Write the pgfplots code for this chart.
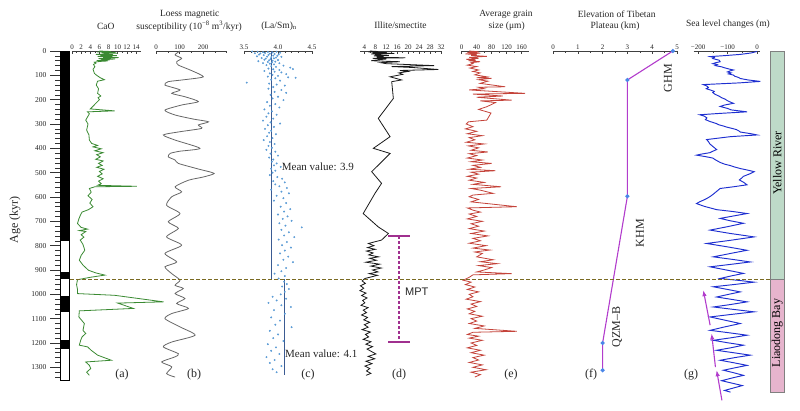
\documentclass[border=0pt]{standalone}
\usepackage{fontspec}
\setmainfont{Liberation Serif}
\newfontfamily\sansf{Liberation Sans}
\usepackage{pgfplots}
\pgfplotsset{compat=1.18}
\usetikzlibrary{arrows.meta}
\definecolor{cao}{HTML}{3A8A32}
\definecolor{msc}{HTML}{666666}
\definecolor{scat}{HTML}{5B9BD5}
\definecolor{meanc}{HTML}{3B5B92}
\definecolor{grc}{HTML}{C4433A}
\definecolor{slc}{HTML}{1E2FD0}
\definecolor{elevc}{HTML}{B23CCC}
\definecolor{mkc}{HTML}{4A86E8}
\definecolor{mptc}{HTML}{A0308F}
\definecolor{dashc}{HTML}{7A6A22}
\definecolor{ygreen}{HTML}{BEDAC8}
\definecolor{lpink}{HTML}{E6B4CD}
\pgfplotsset{panel/.style={
  scale only axis, height=345.5pt, ymin=0, ymax=1420, y dir=reverse,
  axis x line*=top, axis y line=none, clip=false, anchor=north west,
  x axis line style={-, black!75, line width=0.6pt},
  tick align=inside, major tick length=3pt, minor tick length=1.8pt,
  every tick/.style={black!75, line width=0.5pt},
  xticklabel style={font=\fontsize{7}{8}\selectfont, text=black!85, inner sep=1.5pt},
  /pgf/number format/assume math mode=true,
  /pgf/number format/1000 sep={},
  scaled x ticks=false, ytick=\empty,
}}
\begin{document}
\begin{tikzpicture}[x=1pt,y=1pt]
\path[use as bounding box] (0,0) rectangle (800,-410);

% polarity column and age axis
\begin{axis}[scale only axis, height=345.5pt, ymin=0, ymax=1420, y dir=reverse,
  width=9pt, xmin=0, xmax=1, at={(60pt,-51pt)}, anchor=north west,
  axis x line=none, axis y line*=left, y axis line style={draw=none},
  tick align=outside, ytick={0,100,...,1300}, minor ytick={0,20,...,1340},
  major tick length=10pt, minor tick length=5pt,
  every tick/.style={black!80, line width=0.5pt},
  yticklabel style={font=\fontsize{7.5}{8}\selectfont, text=black!85},
  /pgf/number format/assume math mode=true, /pgf/number format/1000 sep={}, clip=false]
\addplot[fill=white, draw=none] coordinates {(0,0)(1,0)(1,1355)(0,1355)} --cycle;
\addplot[fill=black, draw=none] coordinates {(0,0)(1,0)(1,781)(0,781)} --cycle;
\addplot[fill=black, draw=none] coordinates {(0,910)(1,910)(1,935)(0,935)} --cycle;
\addplot[fill=black, draw=none] coordinates {(0,1005)(1,1005)(1,1073)(0,1073)} --cycle;
\addplot[fill=black, draw=none] coordinates {(0,1187)(1,1187)(1,1225)(0,1225)} --cycle;
\addplot[draw=black, line width=0.7pt, fill=none] coordinates {(0,0)(1,0)(1,1355)(0,1355)} --cycle;
\end{axis}

% (a) CaO
\begin{axis}[panel, at={(72pt,-51pt)}, width=68.6pt, xmin=0, xmax=15, xtick={0,2,...,14}, minor x tick num=1]
\addplot[cao, line width=0.8pt] coordinates {
(6,0)(8.5,2)(5.5,4)(9.5,5)(6.5,7)(10,9)(7,10)(8,12)(5.2,14)(9,15)(6.2,17)(9.8,19)(7.5,20)(5.6,22)(8.8,24)(6.8,26)(10.2,27)(7.2,29)(5.8,31)(9.4,33)(6.4,35)(8.2,37)(5.4,39)(7.8,41)(6.0,43)(4.9,46)(5.2,50)
(4.7,55)(5.0,65)(4.6,75)(4.9,92)(5.4,100)(6.2,110)(7.1,118)(5.6,124)(5.3,140)(5.8,155)(5.6,174)(6.3,185)(5.7,192)(6.0,200)(5.2,215)(4.5,229)(4.0,238)(9.3,246)(3.4,250)(3.8,258)(3.0,284)(3.5,300)(3.2,325)(3.7,345)(3.8,366)(4.3,380)(5.6,388)(4.6,394)(6.4,402)(5.0,410)(6.8,418)(5.4,426)(6.2,435)(5.2,445)(6.8,452)(5.8,462)(6.6,470)(5.4,478)(7.0,486)(6.0,495)(6.6,505)(5.6,515)(6.8,525)(5.8,535)(6.4,545)(5.6,552)(14.2,556)(5.0,558)(3.8,565)(4.2,580)(3.5,595)(4.4,610)(3.9,625)(4.6,640)(3.6,652)(2.2,662)(1.9,672)(1.5,690)(1.2,709)(2.0,725)(3.4,732)(1.6,738)(3.0,742)(2.0,755)(2.6,765)(1.8,777)(2.4,795)(2.8,819)(2.0,840)(1.6,860)(2.4,880)(3.6,901)(5.2,912)(7.2,921)(4.0,930)(1.2,940)(1.0,960)(1.2,980)(1.2,997)(9.3,1004)(20.0,1031)(10.0,1036)(13.4,1058)(1.6,1068)(1.5,1093)(2.7,1120)(2.4,1148)(3.0,1161)(2.2,1175)(1.9,1189)(1.6,1209)(3.4,1216)(4.2,1230)(5.6,1250)(8.6,1271)(3.0,1278)(3.8,1292)(4.1,1305)(3.2,1320)(3.8,1333)};
\end{axis}

% (b) magnetic susceptibility
\begin{axis}[panel, at={(156pt,-51pt)}, width=70.6pt, xmin=0, xmax=300, xtick={0,100,200}, minor xtick={50,150,250,300}]
\addplot[msc, line width=0.8pt, smooth, tension=0.4] coordinates {
(102,0)(81,16)(109,30)(88,44)(95,58)(150,80)(201,106)(120,118)(52,126)(38,140)(102,160)(67,174)(123,188)(180,208)(109,222)(38,243)(81,263)(160,280)(223,291)(180,304)(194,318)(100,332)(31,345)(81,366)(187,400)(100,412)(60,421)(52,435)(81,448)(95,462)(180,485)(247,503)(200,518)(138,531)(81,558)(109,579)(67,599)(45,634)(102,668)(52,702)(95,729)(45,764)(109,798)(38,832)(88,867)(38,887)(67,915)(102,942)(81,963)(116,976)(81,997)(123,1017)(88,1038)(138,1058)(67,1079)(38,1100)(102,1134)(166,1168)(67,1196)(31,1216)(95,1244)(81,1257)(24,1278)(67,1298)(45,1326)(81,1340)};
\end{axis}

% (c) (La/Sm)n
\begin{axis}[panel, at={(244pt,-51pt)}, width=68pt, xmin=3.5, xmax=4.5, xtick={3.5,4,4.5}, xticklabels={3.5,4.0,4.5}, minor x tick num=4]
\addplot[only marks, mark=*, mark size=0.75pt, scat] coordinates {
(3.62,2)(3.70,3)(3.78,5)(3.85,4)(3.92,6)(3.98,3)(4.03,7)(3.66,9)(3.74,10)(3.81,8)(3.88,11)(3.95,12)(4.01,14)(3.72,15)(3.79,17)(3.86,16)(3.93,19)(3.99,20)(3.69,22)(3.84,23)(3.90,25)(3.97,27)(4.05,24)(3.76,29)(3.82,31)(3.89,33)(3.94,30)(3.80,36)(3.87,38)(3.92,40)(4.00,37)(3.71,42)(3.85,45)(3.91,47)(3.96,44)(3.78,50)(3.88,52)(3.94,55)(4.02,50)(3.83,58)
(3.90,62)(3.97,65)(4.08,60)(4.18,68)(3.86,72)(3.93,75)(4.02,78)(4.22,74)(3.80,82)(3.95,85)(4.05,88)(3.88,92)(4.12,95)(3.92,98)(4.00,102)(3.85,105)(4.15,108)(3.96,112)(4.26,110)(3.90,118)(4.03,122)(3.54,130)(3.87,134)(3.98,138)(4.10,142)(3.93,148)
(3.86,155)(4.05,160)(3.95,168)(4.12,172)(3.89,180)(4.00,188)(3.92,195)(4.08,202)(3.84,210)(3.96,218)(3.88,225)(4.02,232)(3.80,240)(3.91,248)(3.86,256)(3.98,262)(3.83,270)(3.93,278)(3.78,286)(3.89,293)(4.03,298)(3.85,305)(3.94,312)(3.81,320)(3.90,328)(3.87,336)(3.97,342)(3.84,350)(3.92,358)(3.79,366)(3.88,374)(3.95,382)(3.86,390)(3.91,398)(3.83,406)(3.96,414)(3.89,422)(4.00,430)(3.87,438)(3.93,446)(3.91,455)(3.98,462)(3.94,470)(4.04,476)(3.90,484)(3.96,492)(3.92,500)
(3.88,510)(3.99,518)(4.06,525)(3.93,535)(4.10,540)(3.96,548)(4.02,556)(4.13,563)(3.90,570)(4.05,578)(4.16,585)(3.98,595)(4.08,605)(3.94,615)(4.12,625)(4.04,640)(4.18,650)(4.09,660)(4.00,672)(4.14,680)(4.07,690)(4.20,698)(4.02,708)(4.11,718)(4.35,725)(4.05,735)(4.16,745)(4.09,758)(4.24,765)(4.01,775)(4.13,785)(4.06,798)(4.19,808)(4.10,820)(4.03,832)(4.15,845)(4.08,858)(4.22,868)(4.00,880)(4.12,892)(4.05,905)(3.95,915)(4.10,925)(4.01,935)
(4.09,948)(4.13,958)(4.06,968)(4.16,978)(4.10,990)(4.04,1000)(3.92,1010)(4.12,1018)(3.98,1025)(3.86,1035)(4.05,1045)(4.19,1052)(3.94,1065)(4.10,1080)(3.90,1095)(4.03,1108)(3.96,1125)(4.20,1135)(3.88,1150)(4.00,1165)(3.93,1180)(4.08,1192)(3.85,1205)(3.97,1218)(3.90,1232)(4.02,1245)(3.83,1258)(3.95,1270)(3.88,1282)(4.05,1295)(3.92,1308)(3.98,1320)};
\addplot[meanc, line width=1pt] coordinates {(3.9,0)(3.9,942)};
\addplot[meanc, line width=1pt] coordinates {(4.1,938)(4.1,1330)};
\end{axis}

% (d) Illite/smectite
\begin{axis}[panel, at={(360.2pt,-51pt)}, width=82.2pt, xmin=2.5, xmax=32.5, xtick={4,8,...,32}, minor x tick num=1]
\addplot[black!90, line width=0.8pt] coordinates {
(6,0)(9,2)(5.5,4)(12,6)(7,8)(15,10)(6.5,12)(10,14)(8,16)(13,18)(7.5,20)(11,22)(8.5,25)(19,28)(7,30)(12,33)(9,36)(6.5,40)(17,44)(10,48)(12,52)(29.5,60)(14,64)(22,68)(31,76)(17,80)(20,84)(16.6,90)(18,96)(13.4,106)(17.6,119)(14,126)(14.6,195)(9.1,277)(13.4,352)(7.3,400)(13.4,421)(6.7,496)(10.3,544)(7.9,585)(3.6,668)(9.1,723)(12.8,750)(10.3,777)(5.5,791)(7.5,800)(5.2,808)(8.0,815)(4.8,822)(7.2,830)(5.6,838)(9.2,846)(6.0,852)(8.4,860)(4.6,868)(9.6,876)(6.4,884)(10.2,892)(7.0,900)(9.0,908)(5.8,915)(8.8,922)(4.2,935)(3.2,945)(4.4,955)(2.6,965)(3.8,975)(2.4,985)(4.6,995)(3.0,1005)(5.0,1015)(3.4,1025)(4.2,1035)(2.8,1045)(5.4,1055)(3.6,1065)(4.8,1075)(3.0,1085)(5.2,1095)(3.8,1105)(6.0,1115)(4.0,1125)(5.4,1135)(3.2,1145)(6.2,1155)(4.4,1165)(5.6,1175)(3.6,1185)(6.4,1195)(4.6,1205)(7.0,1215)(5.0,1225)(6.6,1235)(8.2,1245)(5.4,1255)(7.8,1265)(4.6,1275)(6.8,1285)(4.2,1295)(6.0,1305)(4.8,1315)(6.4,1325)(4.6,1333)};
\addplot[mptc, line width=1.4pt, dash pattern=on 3pt off 2pt] coordinates {(16.7,761)(16.7,1196)};
\addplot[mptc, line width=1.4pt] coordinates {(12.8,761)(20.7,761)};
\addplot[mptc, line width=1.4pt] coordinates {(12.8,1196)(20.7,1196)};
\end{axis}

% (e) grain size
\begin{axis}[panel, at={(461.7pt,-51pt)}, width=67.5pt, xmin=0, xmax=180, xtick={0,40,...,160}, minor x tick num=1]
\addplot[grc, line width=0.8pt] coordinates {
(20,0)(45,3)(15,6)(50,9)(10,12)(40,15)(25,18)(67,22)(20,26)(45,30)(12,34)(38,37)(18,40)(49,44)(25,48)(30,52)
(15,58)(40,64)(22,70)(45,78)(30,84)(49,90)(35,98)(67,106)(40,110)(80,112)(45,118)(70,124)(49,133)(116,147)(45,149)(60,155)(20,160)(169,174)(30,177)(110,185)(40,190)(133,202)(50,205)(90,212)(67,229)(45,240)(78,255)(67,284)(18,291)(12,300)(30,311)(10,320)(40,330)(15,340)(55,348)(20,356)(35,365)(12,375)(60,382)(18,390)(45,398)(25,408)(70,415)(20,422)(40,430)(15,440)(55,448)(25,455)(80,462)(30,470)(50,478)(20,486)(90,492)(25,498)(45,506)(15,515)(40,522)(20,531)(60,540)(30,548)(105,558)(25,565)(50,572)(84,585)(30,592)(20,599)(45,610)(25,620)(147,640)(15,645)(30,654)(50,662)(20,670)(40,680)(15,690)(55,700)(25,710)(45,720)(20,730)(60,740)(25,750)(70,760)(30,770)(50,780)(20,790)(65,800)(30,810)(75,818)(35,826)(55,832)(40,846)(84,858)(50,866)(95,874)(45,882)(80,890)(60,900)(40,908)(133,915)(30,920)(20,930)(4,942)(25,950)(10,960)(35,970)(15,980)(45,990)(20,1000)(30,1010)(12,1020)(50,1030)(25,1040)(40,1050)(15,1060)(35,1070)(20,1080)(55,1090)(25,1100)(40,1110)(20,1120)(60,1130)(35,1140)(147,1152)(30,1156)(15,1165)(45,1172)(20,1180)(55,1189)(25,1200)(40,1210)(15,1220)(50,1230)(25,1240)(60,1250)(30,1260)(45,1270)(20,1280)(55,1290)(30,1300)(65,1310)(25,1320)(50,1330)(35,1340)};
\end{axis}

% (f) elevation
\begin{axis}[panel, at={(553pt,-51pt)}, width=124pt, xmin=0, xmax=5, xtick={0,1,...,5}, minor x tick num=1]
\addplot[elevc, line width=1.1pt, mark=*, mark size=1.5pt, mark options={draw=mkc, fill=mkc}] coordinates {(4.83,0)(3.0,119)(3.0,597)(2.0,1200)(2.0,1312)};
\end{axis}

% (g) sea level
\begin{axis}[panel, at={(693.6pt,-51pt)}, width=66.4pt, xmin=-215, xmax=10, xtick={-200,-100,0}, xticklabels={−200,−100,0}, minor x tick num=1]
\addplot[slc, line width=0.95pt] coordinates {
(0,2)(-20,8)(-57,14)(-110,19)(-159,23)(-145,27)(-150,31)(-128,38)(-125,44)(-140,48)(-150,52)(-135,56)(-142,60)(-120,65)(-110,69)(-95,74)(-80,78)(-92,82)(-100,86)(-88,90)(-97,94)(-80,99)(-75,104)(-62,109)(-57,113)(-30,119)(11,125)(-60,131)(-182,138)(-170,144)(-165,150)(-172,155)(-159,160)(-145,166)(-150,171)(-142,178)(-128,186)(-120,192)(-108,198)(-102,203)(-92,209)(-80,215)(-110,222)(-125,228)(-100,236)(-88,242)(-34,250)(-120,256)(-194,262)(-178,268)(-170,275)(-175,282)(-159,290)(-138,298)(-130,303)(-112,309)(-102,313)(-85,318)(-70,323)(-62,328)(-57,333)(-20,340)(0,345)(-90,352)(-171,364)(-165,372)(-160,382)(-150,392)(-137,405)(-150,412)(-160,418)(-190,424)(-205,428)(-175,434)(-150,440)(-140,448)(-125,458)(-110,465)(-90,471)(-75,477)(-57,483)(-30,490)(-10,496)(-25,505)(-46,515)(-52,522)(-60,530)(-45,540)(-34,550)(-80,558)(-125,565)(-132,572)(-140,580)(-150,590)(-159,598)(-170,606)(-180,612)(-195,620)(-205,627)(-180,638)(-137,652)(-80,660)(-34,668)(-80,678)(-125,688)(-90,698)(-46,708)(-100,722)(-159,736)(-90,750)(-10,764)(-90,778)(-171,791)(-100,805)(-34,819)(-90,832)(-148,846)(-80,857)(-23,867)(-90,877)(-159,887)(-100,901)(-46,914)(-90,925)(-125,935)(-60,943)(-10,950)(-80,960)(-148,969)(-100,980)(-57,990)(-100,1001)(-137,1011)(-85,1021)(-34,1031)(-90,1042)(-148,1052)(-80,1062)(-10,1072)(-90,1083)(-159,1093)(-110,1106)(-57,1120)(-110,1134)(-159,1148)(-95,1158)(-34,1168)(-90,1179)(-148,1189)(-100,1199)(-46,1209)(-90,1220)(-137,1230)(-80,1240)(-23,1250)(-75,1260)(-125,1271)(-80,1281)(-34,1292)(-75,1302)(-114,1312)(-80,1322)(-46,1333)(-85,1344)(-120,1355)(-85,1365)(-50,1375)(-80,1385)(-110,1395)(-90,1402)};
\addplot[elevc, line width=1.1pt, -{Latex[length=6pt,width=4.5pt]}] coordinates {(-159,1127)(-182,983)};
\addplot[elevc, line width=1.1pt, -{Latex[length=6pt,width=4.5pt]}] coordinates {(-141,1299)(-154,1161)};
\addplot[elevc, line width=1.1pt, -{Latex[length=6pt,width=4.5pt]}] coordinates {(-119,1436)(-137,1312)};
\end{axis}

% right bars and dashed line
\begin{axis}[scale only axis, height=345.5pt, ymin=0, ymax=1420, y dir=reverse,
  width=14.3pt, xmin=0, xmax=1, at={(770pt,-51pt)}, anchor=north west,
  hide x axis, hide y axis, clip=false]
\addplot[fill=ygreen, draw=black!50, line width=0.6pt] coordinates {(0,0)(1,0)(1,939)(0,939)} --cycle;
\addplot[fill=lpink, draw=black!50, line width=0.6pt] coordinates {(0,939)(1,939)(1,1401)(0,1401)} --cycle;
\addplot[dashc, line width=1.5pt, dash pattern=on 4pt off 2pt] coordinates {(-48.95,939)(0,939)};
\node[rotate=90, font=\fontsize{12}{12}\selectfont] at (axis cs:0.5,460) {Yellow River};
\node[rotate=90, font=\fontsize{12}{12}\selectfont] at (axis cs:0.5,1159) {Liaodong Bay};
\end{axis}

% titles
\begin{scope}[every node/.style={font=\fontsize{9.5}{10}\selectfont, text=black!85, inner sep=0pt}]
\node at (105.8,-26) {CaO};
\node at (189.7,-14) {Loess magnetic};
\node at (189,-26) {susceptibility (10\textsuperscript{−8} m\textsuperscript{3}/kyr)};
\node at (279,-26) {(La/Sm)\textsubscript{n}};
\node at (400.5,-25) {Illite/smectite};
\node at (506,-14) {Average grain};
\node at (506.7,-26) {size (μm)};
\node at (616.7,-14) {Elevation of Tibetan};
\node at (615,-26) {Plateau (km)};
\node at (728,-24) {Sea level changes (m)};
\end{scope}
\begin{scope}[every node/.style={font=\fontsize{12}{12}\selectfont, text=black!85, inner sep=0pt}]
\node[rotate=90] at (15,-220) {Age (kyr)};
\node at (122,-375) {(a)};
\node at (194,-375) {(b)};
\node at (308,-375) {(c)};
\node at (399,-375) {(d)};
\node at (511,-375) {(e)};
\node at (591,-375) {(f)};
\node at (691,-375) {(g)};
\node[rotate=90] at (668,-78) {GHM};
\node[rotate=90] at (640,-233) {KHM};
\node[rotate=90] at (617,-327) {QZM–B};
\end{scope}
\node[anchor=west, inner sep=0pt, font=\fontsize{11}{11}\selectfont, text=black!85] at (281.7,-166.7) {Mean value: 3.9};
\node[anchor=west, inner sep=0pt, font=\fontsize{11}{11}\selectfont, text=black!85] at (285,-353.3) {Mean value: 4.1};
\node[anchor=west, inner sep=0pt, font=\sansf\fontsize{11}{11}\selectfont, text=black!85] at (405,-291.7) {MPT};
\end{tikzpicture}
\end{document}
